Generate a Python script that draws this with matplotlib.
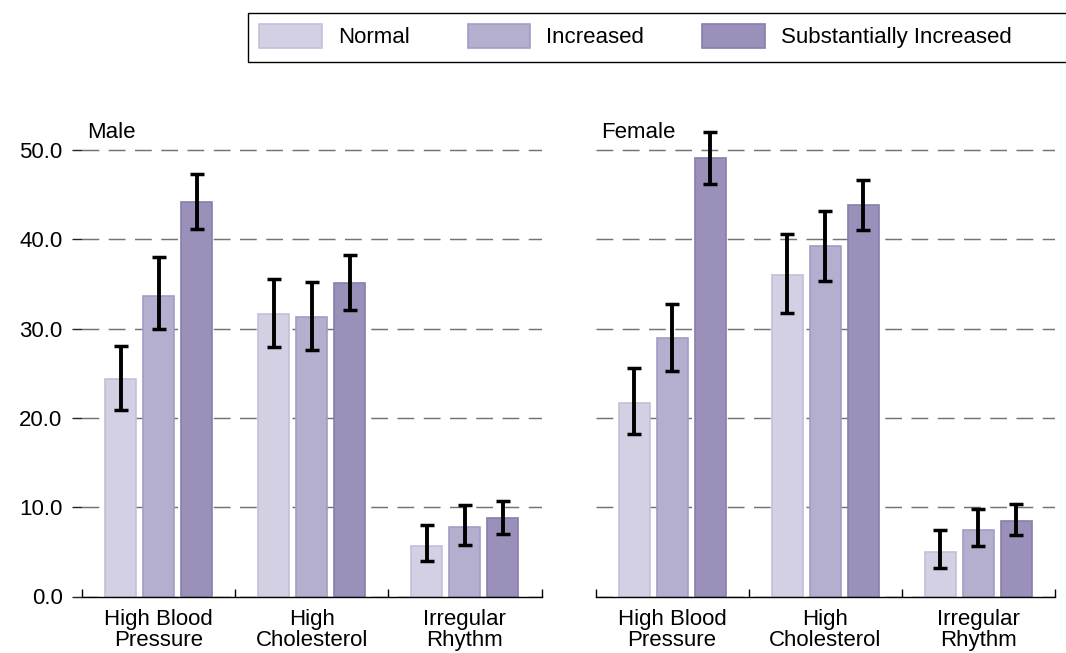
"""Grouped bars with error bars: risk factors by level, male and female panels."""

import matplotlib

matplotlib.use("Agg")
import matplotlib.pyplot as plt
import numpy as np
from matplotlib.patches import Rectangle
from matplotlib.ticker import FixedLocator

plt.rcParams["font.family"] = ["Liberation Sans", "DejaVu Sans"]

categories = ["High Blood\nPressure", "High\nCholesterol", "Irregular\nRhythm"]
levels = ["Normal", "Increased", "Substantially Increased"]
panels = ["Male", "Female"]

# percentages per level (rows) and category (columns)
male_vals = [[24.4, 31.6, 5.7], [33.7, 31.3, 7.75], [44.2, 35.1, 8.8]]
male_lo = [[20.9, 27.9, 4.0], [29.9, 27.6, 5.8], [41.2, 32.1, 7.0]]
male_hi = [[28.0, 35.6, 8.0], [38.0, 35.2, 10.3], [47.3, 38.2, 10.7]]

female_vals = [[21.7, 36.0, 5.0], [28.9, 39.2, 7.5], [49.1, 43.8, 8.4]]
female_lo = [[18.2, 31.7, 3.2], [25.3, 35.3, 5.7], [46.2, 41.0, 6.9]]
female_hi = [[25.6, 40.6, 7.4], [32.8, 43.2, 9.8], [52.0, 46.6, 10.4]]

yticks = [0, 10, 20, 30, 40, 50]

colors = ["#d4d0e4", "#b4aecf", "#9a90b9"]
edges = ["#c4bfda", "#a39dc6", "#887dae"]

W, H = 1066, 653
fig = plt.figure(figsize=(W / 100, H / 100), dpi=100)

ax_m = fig.add_axes([82 / W, 56.5 / H, 459.5 / W, 491.2 / H])
ax_f = fig.add_axes([595.5 / W, 56.5 / H, 459.5 / W, 491.2 / H])

data = {
    "Male": (male_vals, male_lo, male_hi),
    "Female": (female_vals, female_lo, female_hi),
}

x = np.arange(len(categories))
bw = 0.203
step = 0.248
handles = []
for ax, name in zip([ax_m, ax_f], panels):
    vals, lo, hi = data[name]
    for i, lev in enumerate(levels):
        v = np.array(vals[i])
        err = np.array([v - np.array(lo[i]), np.array(hi[i]) - v])
        xs = x + (i - 1) * step
        bars = ax.bar(xs, v, width=bw, color=colors[i], edgecolor=edges[i],
                      linewidth=1.2, label=lev, zorder=2)
        ax.errorbar(xs, v, yerr=err, fmt="none", ecolor="black", elinewidth=2.8,
                    capsize=5.0, capthick=2.5, zorder=3, clip_on=False)
        if name == "Male":
            handles.append(bars)

    ax.set_xlim(-0.5, 2.5)
    ax.set_ylim(0, 55)
    ax.set_yticks(yticks)
    ax.grid(True, axis="y", color="#737373", linewidth=1.05,
            linestyle=(0, (11.5, 6.5)), zorder=0)
    ax.set_axisbelow(True)
    for s in ["top", "right", "left"]:
        ax.spines[s].set_visible(False)
    ax.spines["bottom"].set_color("black")
    ax.spines["bottom"].set_linewidth(1.0)
    ax.spines["bottom"].set_zorder(4)

    ax.set_xticks(x)
    ax.set_xticklabels(categories, fontsize=16, linespacing=1.0)
    ax.tick_params(axis="x", which="major", length=0, pad=9)
    ax.xaxis.set_minor_locator(FixedLocator([-0.5, 0.5, 1.5, 2.5]))
    ax.tick_params(axis="x", which="minor", direction="in", length=6,
                   width=1.0, color="black")

    ax.text(0.012, 51.3, name, transform=ax.get_yaxis_transform(),
            fontsize=16, ha="left", va="baseline")

ax_m.set_yticklabels([f"{t:.1f}" for t in yticks], fontsize=16)
ax_m.tick_params(axis="y", length=7, width=1.0, color="#222222", pad=7)
ax_f.tick_params(axis="y", length=0, labelleft=False)

# legend box runs past the right edge of the figure, as in the original
fig.patches.append(Rectangle((248 / W, 1 - 62 / H), (W + 10 - 248) / W, 49 / H,
                             transform=fig.transFigure, facecolor="white",
                             edgecolor="black", linewidth=1.0, zorder=0))
fig.legend(handles, levels, loc="upper left",
           bbox_to_anchor=(248 / W, 1 - 13 / H), ncol=3, fontsize=16,
           frameon=False, borderaxespad=0, borderpad=0.5,
           handlelength=2.82, handleheight=1.27, handletextpad=0.73,
           columnspacing=2.6)

fig.savefig("out.png", dpi=100)
plt.close(fig)
